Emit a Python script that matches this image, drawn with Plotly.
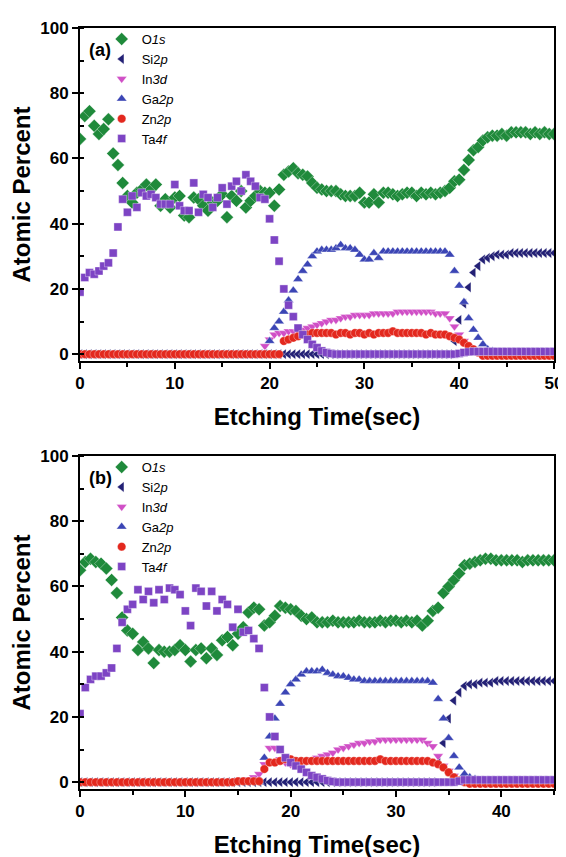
import plotly.graph_objects as go

# ---------------- data ----------------
TIME_A = [0, 0.5, 1, 1.5, 2, 2.5, 3, 3.5, 4, 4.5,
          5, 5.5, 6, 6.5, 7, 7.5, 8, 8.5, 9, 9.5,
          10, 10.5, 11, 11.5, 12, 12.5, 13, 13.5, 14, 14.5,
          15, 15.5, 16, 16.5, 17, 17.5, 18, 18.5, 19, 19.5,
          20, 20.5, 21, 21.5, 22, 22.5, 23, 23.5, 24, 24.5,
          25, 25.5, 26, 26.5, 27, 27.5, 28, 28.5, 29, 29.5,
          30, 30.5, 31, 31.5, 32, 32.5, 33, 33.5, 34, 34.5,
          35, 35.5, 36, 36.5, 37, 37.5, 38, 38.5, 39, 39.5,
          40, 40.5, 41, 41.5, 42, 42.5, 43, 43.5, 44, 44.5,
          45, 45.5, 46, 46.5, 47, 47.5, 48, 48.5, 49, 49.5,
          50]

O1S_A = [66, 73, 74.5, 70, 67.5, 69, 72, 61.5, 58, 52.5,
         48.5, 46.5, 49.5, 50.5, 52, 50.5, 52, 45.5, 47.5, 45,
         48, 48.5, 42.5, 42, 48, 47.5, 45.5, 44, 46.5, 47,
         49, 42, 48.5, 47, 50, 45, 47, 48.5, 50, 49.5,
         49.5, 45.5, 50.5, 55, 56, 57, 55.5, 55, 54.5, 52.5,
         51, 50.5, 50, 50, 50, 49, 48.5, 48.5, 48.5, 49.5,
         46.5, 46.5, 49, 46.5, 49.5, 49.5, 49, 48.5, 49, 49.5,
         49.5, 48.5, 49.5, 49, 49.5, 49, 49.5, 50, 51, 53,
         53.5, 56.5, 59.5, 62.5, 63.5, 65.5, 66.5, 67, 67, 67.5,
         67, 68, 68, 68, 68, 67.5, 68, 67.5, 68, 67.5,
         67.5]

SI2P_A = [0, 0, 0, 0, 0, 0, 0, 0, 0, 0,
          0, 0, 0, 0, 0, 0, 0, 0, 0, 0,
          0, 0, 0, 0, 0, 0, 0, 0, 0, 0,
          0, 0, 0, 0, 0, 0, 0, 0, 0, 0,
          0, 0, 0, 0, 0, 0, 0, 0, 0, 0,
          0, 0, 0, 0, 0, 0, 0, 0, 0, 0,
          0, 0, 0, 0, 0, 0, 0, 0, 0, 0,
          0, 0, 0, 0, 0, 0, 0, 0, 0, 4,
          10.5, 15.5, 20.5, 25, 27, 29, 29.5, 30, 30.5, 30.5,
          30.5, 31, 31, 31, 31, 31, 31, 31, 31, 31,
          31]

IN3D_A = [0, 0, 0, 0, 0, 0, 0, 0, 0, 0,
          0, 0, 0, 0, 0, 0, 0, 0, 0, 0,
          0, 0, 0, 0, 0, 0, 0, 0, 0, 0,
          0, 0, 0, 0, 0, 0, 0, 0, 0.5, 2.5,
          4.5, 6, 6.5, 6.5, 7, 7, 7, 7.5, 8, 8.5,
          9, 9.5, 10, 10.5, 10.5, 11, 11.5, 11.5, 12, 12,
          12, 12, 12.5, 12.5, 12.5, 12.5, 12.5, 13, 13, 13,
          13, 13, 13, 13, 13, 12.5, 12.5, 12.5, 11, 8.5,
          6, 4, 2, 1, 0.5, 0, 0, 0, 0, 0,
          0, 0, 0, 0, 0, 0, 0, 0, 0, 0,
          0]

GA2P_A = [0, 0, 0, 0, 0, 0, 0, 0, 0, 0,
          0, 0, 0, 0, 0, 0, 0, 0, 0, 0,
          0, 0, 0, 0, 0, 0, 0, 0, 0, 0,
          0, 0, 0, 0, 0, 0, 0, 0, 0, 0,
          4, 8, 10, 13, 16.5, 19.5, 23, 25.5, 27.5, 30,
          31.5, 32, 32, 32, 32.5, 33.5, 32.5, 32.5, 32, 30.5,
          29, 29, 31, 29.5, 31.5, 31.5, 31.5, 31.5, 31.5, 31.5,
          31.5, 31.5, 31.5, 31.5, 31.5, 31.5, 31.5, 31.5, 30.5, 25.5,
          21, 16, 11, 7.5, 5, 3, 1.5, 1, 0.5, 0.5,
          0.5, 0.5, 0.5, 0.5, 0.5, 0.5, 0.5, 0.5, 0.5, 0.5,
          0.5]

ZN2P_A = [0, 0, 0, 0, 0, 0, 0, 0, 0, 0,
          0, 0, 0, 0, 0, 0, 0, 0, 0, 0,
          0, 0, 0, 0, 0, 0, 0, 0, 0, 0,
          0, 0, 0, 0, 0, 0, 0, 0, 0, 0,
          0, 0, 0, 4, 4.5, 5, 5.5, 6, 6, 6.5,
          6.5, 6.5, 6.5, 6.5, 6, 6.5, 6.5, 6, 6.5, 6.5,
          6, 6.5, 6, 6.5, 6.5, 6.5, 7, 6.5, 6.5, 6.5,
          6.5, 6.5, 6.5, 6, 6.5, 6, 6, 6, 5.5, 5,
          4.5, 3.5, 2.5, 1.5, 0.5, -0.5, -0.5, -0.5, -0.5, -0.5,
          -0.5, -0.5, -0.5, -0.5, -0.5, -0.5, -0.5, -0.5, -0.5, -0.5,
          -0.5]

TA4F_A = [19, 23.5, 25, 24.5, 25.5, 27, 28, 31, 39, 47.5,
          43.5, 48.5, 45, 49.5, 48.5, 49, 48, 46, 46, 46,
          52, 45.5, 44, 44, 52.5, 43.5, 49, 48, 45, 48,
          51, 46, 51.5, 53, 50, 55, 53, 51.5, 48, 47.5,
          41.5, 35, 28.5, 20, 15, 11.5, 8, 6, 4.5, 3,
          2, 1, 0.5, 0.2, 0, 0, 0, 0, 0, 0,
          0, 0, 0, 0, 0, 0, 0, 0, 0, 0,
          0, 0, 0, 0, 0, 0, 0, 0, 0, 0,
          0.2, 0.5, 0.7, 0.8, 0.8, 0.8, 0.8, 0.8, 0.8, 0.8,
          0.8, 0.8, 0.8, 0.8, 0.8, 0.8, 0.8, 0.8, 0.8, 0.8,
          0.8]

TIME_B = [0, 0.5, 1, 1.5, 2, 2.5, 3, 3.5, 4, 4.5,
          5, 5.5, 6, 6.5, 7, 7.5, 8, 8.5, 9, 9.5,
          10, 10.5, 11, 11.5, 12, 12.5, 13, 13.5, 14, 14.5,
          15, 15.5, 16, 16.5, 17, 17.5, 18, 18.5, 19, 19.5,
          20, 20.5, 21, 21.5, 22, 22.5, 23, 23.5, 24, 24.5,
          25, 25.5, 26, 26.5, 27, 27.5, 28, 28.5, 29, 29.5,
          30, 30.5, 31, 31.5, 32, 32.5, 33, 33.5, 34, 34.5,
          35, 35.5, 36, 36.5, 37, 37.5, 38, 38.5, 39, 39.5,
          40, 40.5, 41, 41.5, 42, 42.5, 43, 43.5, 44, 44.5,
          45]

O1S_B = [65, 67.5, 68.5, 67.5, 67, 65.5, 62, 58, 50.5, 46.5,
         45.5, 40.5, 43, 41, 36.5, 40.5, 40, 40, 40.5, 42,
         40.5, 37, 40.5, 41, 38, 41, 39, 43.5, 44.5, 42,
         45.5, 47.5, 52, 53.5, 53, 48, 49, 51, 54, 53.5,
         53, 52.5, 51, 50, 50.5, 49, 49, 49, 49.5, 49,
         49, 49, 49, 49.5, 49, 49, 49, 49.5, 49, 49.5,
         49.5, 49, 49.5, 49, 49.5, 48, 49.5, 52.5, 53.5, 58,
         60, 62, 64, 66.5, 67, 67.5, 68, 68.5, 68.5, 68,
         68, 68, 68, 68, 67.5, 68, 68, 68, 68, 68,
         68]

SI2P_B = [0, 0, 0, 0, 0, 0, 0, 0, 0, 0,
          0, 0, 0, 0, 0, 0, 0, 0, 0, 0,
          0, 0, 0, 0, 0, 0, 0, 0, 0, 0,
          0, 0, 0, 0, 0, 0, 0, 0, 0, 0,
          0, 0, 0, 0, 0, 0, 0, 0, 0, 0,
          0, 0, 0, 0, 0, 0, 0, 0, 0, 0,
          0, 0, 0, 0, 0, 0, 0, 0, 6, 12,
          19.5, 25, 27.5, 29.5, 30, 30, 30.5, 30.5, 30.5, 31,
          31, 31, 31, 31, 31, 31, 31, 31, 31, 31,
          31]

IN3D_B = [0, 0, 0, 0, 0, 0, 0, 0, 0, 0,
          0, 0, 0, 0, 0, 0, 0, 0, 0, 0,
          0, 0, 0, 0, 0, 0, 0, 0, 0, 0.3,
          0.5, 0.5, 0.8, 1.5, 2.5, 5.5, 10.5, 10.5, 7, 6,
          5.5, 5.5, 6, 6.5, 7, 7.5, 8, 8.5, 9, 10,
          10.5, 11, 11.5, 12, 12, 12.5, 12.5, 13, 13, 13,
          13, 13, 13, 13, 13, 13, 12, 11, 8, 5,
          3.5, 2, 1, 0.5, 0, 0, 0, 0, 0, 0,
          0, 0, 0, 0, 0, 0, 0, 0, 0, 0,
          0]

GA2P_B = [0, 0, 0, 0, 0, 0, 0, 0, 0, 0,
          0, 0, 0, 0, 0, 0, 0, 0, 0, 0,
          0, 0, 0, 0, 0, 0, 0, 0, 0, 0,
          0, 0, 0, 0, 0, 7.5, 14, 19.5, 24, 27.5,
          30, 31.5, 33, 34, 34, 34, 34.5, 33.5, 33, 32.5,
          32.5, 32, 31.5, 31.5, 31, 31, 31, 31, 31, 31,
          31, 31, 31, 31, 31, 31, 31, 30.5, 25.5, 19.5,
          13.5, 8, 4.5, 2.5, 1.5, 1, 0.5, 0.5, 0.5, 0.5,
          0.5, 0.5, 0.5, 0.5, 0.5, 0.5, 0.5, 0.5, 0.5, 0.5,
          0.5]

ZN2P_B = [0, 0, 0, 0, 0, 0, 0, 0, 0, 0,
          0, 0, 0, 0, 0, 0, 0, 0, 0, 0,
          0, 0, 0, 0, 0, 0, 0, 0, 0, 0,
          0.3, 0.3, 0.3, 0.3, 0.3, 4, 6, 6, 6.5, 7,
          7, 6.5, 6.5, 6.5, 6.5, 6.5, 6.5, 6.5, 6.5, 6.5,
          6.5, 6.5, 6.5, 6.5, 6.5, 6.5, 6.5, 7, 6.5, 6.5,
          6.5, 6.5, 6.5, 6.5, 6.5, 6.5, 6.5, 6, 5.5, 4.5,
          3, 1.5, 0.5, 0, -0.5, -0.5, -0.5, -0.5, -0.5, -0.5,
          -0.5, -0.5, -0.5, -0.5, -0.5, -0.5, -0.5, -0.5, -0.5, -0.5,
          -0.5]

TA4F_B = [21, 29, 31.5, 32.5, 32.5, 33.5, 35, 41, 49, 53,
          54.5, 59, 56, 58.5, 55, 59, 56, 59.5, 59, 57.5,
          52.5, 48, 59.5, 58.5, 54, 58.5, 52.5, 56, 54.5, 47.5,
          53, 46, 46.5, 44, 41, 29, 20, 14, 10, 7.5,
          6, 5, 4, 3, 2, 1.5, 1, 0.5, 0.2, 0,
          0, 0, 0, 0, 0, 0, 0, 0, 0, 0,
          0, 0, 0, 0, 0, 0, 0, 0, 0, 0,
          0, 0, 0.3, 0.7, 0.7, 0.7, 0.7, 0.7, 0.7, 0.7,
          0.7, 0.7, 0.7, 0.7, 0.7, 0.7, 0.7, 0.7, 0.7, 0.7,
          0.7]

SERIES_NAMES = ["O<i>1s</i>", "Si2<i>p</i>", "In<i>3d</i>", "Ga<i>2p</i>", "Zn<i>2p</i>", "Ta<i>4f</i>"]
PANEL_LABELS = ["(a)", "(b)"]
X_TITLE = "Etching Time(sec)"
Y_TITLE = "Atomic Percent"

# ---------------- styles ----------------
SYMBOLS = ["diamond", "triangle-left", "triangle-down", "triangle-up", "circle", "square"]
COLORS = ["#1f8a3b", "#232075", "#d04fc6", "#3b45b5", "#e3281e", "#7d44c4"]
SIZES = [10, 9, 9, 9, 8.5, 8]
FONT = "Arial, 'Liberation Sans', sans-serif"

panels = [
    (TIME_A, [O1S_A, SI2P_A, IN3D_A, GA2P_A, ZN2P_A, TA4F_A], "x", "y", "legend"),
    (TIME_B, [O1S_B, SI2P_B, IN3D_B, GA2P_B, ZN2P_B, TA4F_B], "x2", "y2", "legend2"),
]

fig = go.Figure()
for t, series, xa, ya, lg in panels:
    for name, vals, sym, col, sz in zip(SERIES_NAMES, series, SYMBOLS, COLORS, SIZES):
        fig.add_trace(go.Scatter(
            x=t, y=vals, mode="markers", name=name,
            xaxis=xa, yaxis=ya, legend=lg,
            marker=dict(symbol=sym, color=col, size=sz,
                        line=dict(width=0.5, color="rgba(255,255,255,0.7)")),
        ))

W, H = 566, 857
ML, MR, MT, MB = 69, 16, 11, 69
plot_h = H - MT - MB
dom_a = [1 - (351 - MT) / plot_h, 1]
dom_b = [0, 1 - (448 - MT) / plot_h]

def xax(rng, anchor):
    return dict(
        range=rng, anchor=anchor, domain=[0, 1],
        showline=True, linewidth=2, linecolor="black", mirror=True,
        ticks="outside", ticklen=6, tickwidth=2, tickcolor="black", dtick=10, tick0=0,
        minor=dict(dtick=5, ticks="outside", ticklen=4, tickwidth=2, tickcolor="black"),
        showgrid=False, zeroline=False,
        tickfont=dict(family=FONT, size=17, color="black", weight="bold"),
        title=dict(text=X_TITLE, font=dict(family=FONT, size=24, color="black", weight="bold"),
                   standoff=16),
    )

def yax(dom, anchor):
    return dict(
        range=[-2.1, 100], domain=dom, anchor=anchor,
        showline=True, linewidth=2, linecolor="black", mirror=True,
        ticks="outside", ticklen=6, tickwidth=2, tickcolor="black", dtick=20, tick0=0,
        minor=dict(dtick=10, ticks="inside", ticklen=4, tickwidth=2, tickcolor="black"),
        showgrid=False, zeroline=False,
        tickfont=dict(family=FONT, size=17, color="black", weight="bold"),
        title=dict(text=Y_TITLE, font=dict(family=FONT, size=24, color="black", weight="bold"),
                   standoff=4),
    )

legend_common = dict(
    x=(91 - ML) / (W - ML - MR), xanchor="left", yanchor="top",
    bgcolor="rgba(0,0,0,0)", borderwidth=0, tracegroupgap=0,
    font=dict(family=FONT, size=13, color="black"),
)

fig.update_layout(
    width=W, height=H,
    margin=dict(l=ML, r=MR, t=MT, b=MB),
    paper_bgcolor="white", plot_bgcolor="white",
    showlegend=True,
    xaxis=xax([0, 50], "y"),
    yaxis=yax(dom_a, "x"),
    xaxis2=xax([0, 45], "y2"),
    yaxis2=yax(dom_b, "x2"),
    legend=dict(y=1 + (MT - 7) / plot_h, **legend_common),
    legend2=dict(y=1 - (444 - MT) / plot_h, **legend_common),
)

for lab, xr, yr in zip(PANEL_LABELS, ["x domain", "x2 domain"], ["y domain", "y2 domain"]):
    fig.add_annotation(text=lab, xref=xr, yref=yr, x=0.043, y=0.935,
                       showarrow=False, xanchor="center", yanchor="middle",
                       font=dict(family=FONT, size=18, color="black", weight="bold"))

fig.write_html("out.html")
